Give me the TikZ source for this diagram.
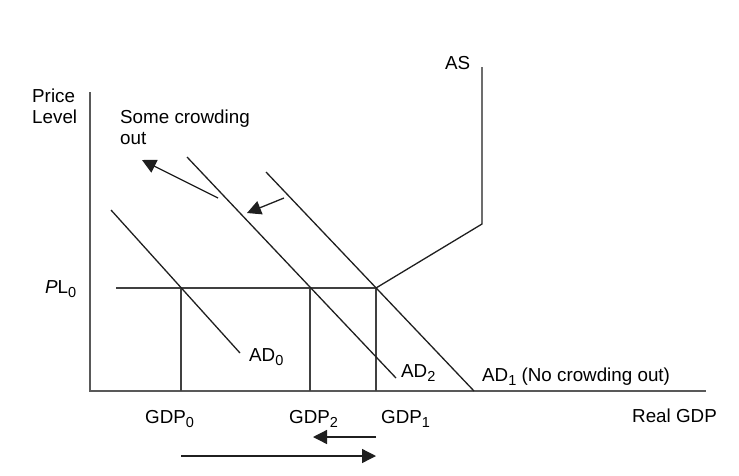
\documentclass[tikz,border=0pt]{standalone}
\usepackage{fontspec}
\setmainfont{Liberation Sans}
\usetikzlibrary{arrows.meta}
\newcommand{\subs}[1]{\raisebox{-0.26em}{\fontsize{14.5}{14.5}\selectfont #1}}
\begin{document}
\begin{tikzpicture}[x=1pt,y=-1pt,
  axis/.style={draw=black!65,line width=1.8pt},
  curve/.style={draw=black!88,line width=1.3pt},
  guide/.style={draw=black!75,line width=1.3pt},
  movearrow/.style={draw=black!88,line width=1.3pt,-{Triangle[length=14pt,width=14pt]}},
  lbl/.style={inner sep=0pt,anchor=base west,font=\fontsize{18.8}{21}\selectfont}]
\useasboundingbox (0,0) rectangle (739,475);
% coordinates
\coordinate (ytop) at (90,92);
\coordinate (orig) at (90,391);
\coordinate (xend) at (706,391);
\coordinate (pls) at (116,288);
\coordinate (e0) at (181,288);
\coordinate (e2) at (310,288);
\coordinate (e1) at (376,288);
\coordinate (g0) at (181,391);
\coordinate (g2) at (310,391);
\coordinate (g1) at (376,391);
\coordinate (ad0s) at (111,210);
\coordinate (ad0e) at (240,353);
\coordinate (ad2s) at (187,157);
\coordinate (ad2e) at (396,378);
\coordinate (ad1s) at (266,172);
\coordinate (ad1e) at (474,391);
\coordinate (ask) at (482,224);
\coordinate (ast) at (482,67);
\coordinate (c1s) at (218,198);
\coordinate (c1e) at (142,160);
\coordinate (c2s) at (284,198);
\coordinate (c2e) at (247,213);
\coordinate (b1s) at (376,437);
\coordinate (b1e) at (313,437);
\coordinate (b2s) at (181,456);
\coordinate (b2e) at (376,456);
% axes
\draw[axis] (ytop) -- (orig) -- (xend);
% guides
\draw[guide] (pls) -- (e1);
\draw[guide] (e0) -- (g0);
\draw[guide] (e2) -- (g2);
\draw[guide] (e1) -- (g1);
% curves
\draw[curve] (ad0s) -- (ad0e);
\draw[curve] (ad2s) -- (ad2e);
\draw[curve] (ad1s) -- (ad1e);
\draw[curve] (e1) -- (ask) -- (ast);
% arrows
\draw[movearrow] (c1s) -- (c1e);
\draw[movearrow] (c2s) -- (c2e);
\draw[movearrow] (b1s) -- (b1e);
\draw[movearrow] (b2s) -- (b2e);
% labels
\node[lbl] (price) at (32,102) {Price};
\node[lbl] (level) at (32,123) {Level};
\node[lbl] (some) at (120,123) {Some crowding};
\node[lbl] (out) at (120,144) {out};
\node[lbl] (as) at (445,69) {AS};
\node[lbl] (pl) at (45,293) {\textit{P}L\subs{0}};
\node[lbl] (adz) at (249,361) {AD\subs{0}};
\node[lbl] (adt) at (401,377) {AD\subs{2}};
\node[lbl] (ado) at (482,381) {AD\subs{1} (No crowding out)};
\node[lbl] (gz) at (145,423) {GDP\subs{0}};
\node[lbl] (gt) at (289,423) {GDP\subs{2}};
\node[lbl] (go) at (381,423) {GDP\subs{1}};
\node[lbl] (rg) at (632,422) {Real GDP};
\end{tikzpicture}
\end{document}
